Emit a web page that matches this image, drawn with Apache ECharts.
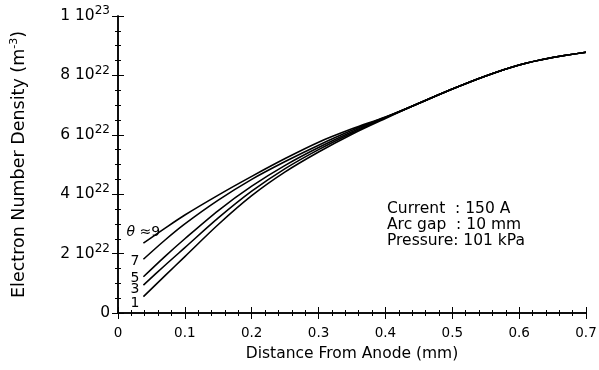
<!DOCTYPE html>
<html>
<head>
<meta charset="utf-8">
<script src="https://cdn.jsdelivr.net/npm/echarts@6/dist/echarts.min.js"></script>
<style>
  html, body { margin: 0; padding: 0; background: #fff; }
  #chart { width: 599px; height: 370px; }
</style>
</head>
<body>
<div id="chart"></div>
<script>
// distance from anode (mm)
var distance = [0.038, 0.07, 0.1, 0.15, 0.2, 0.25, 0.3, 0.35, 0.4, 0.45, 0.5, 0.55, 0.6, 0.65, 0.7]
// electron number density, in units of 10^22 m^-3
var theta9 = [2.35, 2.85, 3.30, 3.97, 4.60, 5.20, 5.75, 6.20, 6.60, 7.06, 7.54, 7.98, 8.35, 8.60, 8.78]
var theta7 = [1.81, 2.45, 3.00, 3.80, 4.50, 5.10, 5.65, 6.15, 6.59, 7.06, 7.54, 7.98, 8.35, 8.60, 8.78]
var theta5 = [1.22, 1.90, 2.50, 3.45, 4.27, 4.97, 5.57, 6.10, 6.58, 7.06, 7.54, 7.98, 8.35, 8.60, 8.78]
var theta3 = [0.94, 1.60, 2.20, 3.20, 4.10, 4.86, 5.50, 6.06, 6.57, 7.06, 7.54, 7.98, 8.35, 8.60, 8.78]
var theta1 = [0.55, 1.25, 1.90, 2.98, 3.95, 4.75, 5.42, 6.02, 6.55, 7.06, 7.54, 7.98, 8.35, 8.60, 8.78]

var curveNames = ['{t|θ} ≈9', '7', '5', '3', '1']
var yTickLabels = ['0', '2 10{s|22}', '4 10{s|22}', '6 10{s|22}', '8 10{s|22}', '1 10{s|23}']
var notes = ['Current  : 150 A', 'Arc gap  : 10 mm', 'Pressure: 101 kPa']

var FONT = 'DejaVu Sans'
var curves = [theta9, theta7, theta5, theta3, theta1]

function pairs (ys) {
  return ys.map(function (y, i) { return [distance[i], y] })
}

var chart = echarts.init(document.getElementById('chart'), null, { renderer: 'canvas' })

var axisLine = { show: true, lineStyle: { color: '#000', width: 1.5 } }
var tick = { inside: true, length: 6, lineStyle: { color: '#000' } }

var option = {
  animation: false,
  backgroundColor: '#fff',
  grid: { left: 118, right: 13, top: 16, bottom: 57, containLabel: false, outerBoundsMode: 'none' },
  xAxis: [{
    type: 'value', min: 0, max: 0.7, interval: 0.1,
    name: 'Distance From Anode (mm)', nameLocation: 'middle', nameGap: 33,
    nameTextStyle: { fontFamily: FONT, fontSize: 15.5, color: '#000' },
    axisLine: axisLine,
    axisTick: tick,
    minorTick: { show: true, splitNumber: 5, length: 3, lineStyle: { color: '#000' } },
    splitLine: { show: false },
    axisLabel: {
      margin: 13, fontFamily: FONT, fontSize: 13.5, color: '#000',
      formatter: function (v) { return v === 0 ? '0' : v.toFixed(1) }
    }
  }, {
    type: 'value', position: 'top', min: 0, max: 0.7, interval: 0.1,
    axisLine: axisLine,
    axisTick: tick,
    minorTick: { show: true, splitNumber: 5, length: 3, lineStyle: { color: '#000' } },
    splitLine: { show: false },
    axisLabel: { show: false }
  }],
  yAxis: [{
    type: 'value', min: 0, max: 10, interval: 2,
    name: 'Electron Number Density (m{s|-3})', nameLocation: 'middle', nameGap: 89,
    nameTextStyle: {
      fontFamily: FONT, fontSize: 17.5, color: '#000',
      rich: { s: { fontFamily: FONT, fontSize: 11, color: '#000', padding: [0, 0, 9, 0] } }
    },
    axisLine: axisLine,
    axisTick: tick,
    minorTick: { show: true, splitNumber: 4, length: 3, lineStyle: { color: '#000' } },
    splitLine: { show: false },
    axisLabel: {
      margin: 8, fontFamily: FONT, fontSize: 15.5, color: '#000',
      formatter: function (v) { return yTickLabels[Math.round(v / 2)] },
      rich: { s: { fontFamily: FONT, fontSize: 12, color: '#000', padding: [0, 0, 10, 0] } }
    }
  }, {
    type: 'value', position: 'right', min: 0, max: 10, interval: 2,
    axisLine: axisLine,
    axisTick: tick,
    minorTick: { show: true, splitNumber: 4, length: 3, lineStyle: { color: '#000' } },
    splitLine: { show: false },
    axisLabel: { show: false }
  }],
  series: curves.map(function (ys, i) {
    return {
      type: 'line', name: 'c' + i, data: pairs(ys),
      smooth: 0.3, showSymbol: false, symbol: 'none',
      lineStyle: { color: '#000', width: 1.6 },
      z: 3
    }
  })
}

chart.setOption(option)

// curve labels beside the start of each curve, and the run conditions note
var labelOffsets = [[0, -11, 'center'], [-4, 2, 'right'], [-4, 2, 'right'], [-4, 4, 'right'], [-4, 7, 'right']]
var graphics = curves.map(function (ys, i) {
  var p = chart.convertToPixel({ gridIndex: 0 }, [distance[0], ys[0]])
  var o = labelOffsets[i]
  return {
    type: 'text', x: p[0] + o[0], y: p[1] + o[1],
    style: {
      text: curveNames[i], fill: '#000', font: '14px "' + FONT + '"',
      align: o[2], verticalAlign: 'middle',
      rich: { t: { font: 'italic 14px "' + FONT + '"', fill: '#000' } }
    }
  }
})
notes.forEach(function (line, i) {
  graphics.push({
    type: 'text', x: 387, y: 209 + i * 16,
    style: { text: line, fill: '#000', font: '15.5px "' + FONT + '"', verticalAlign: 'middle' }
  })
})
chart.setOption({ graphic: graphics })
</script>
</body>
</html>
